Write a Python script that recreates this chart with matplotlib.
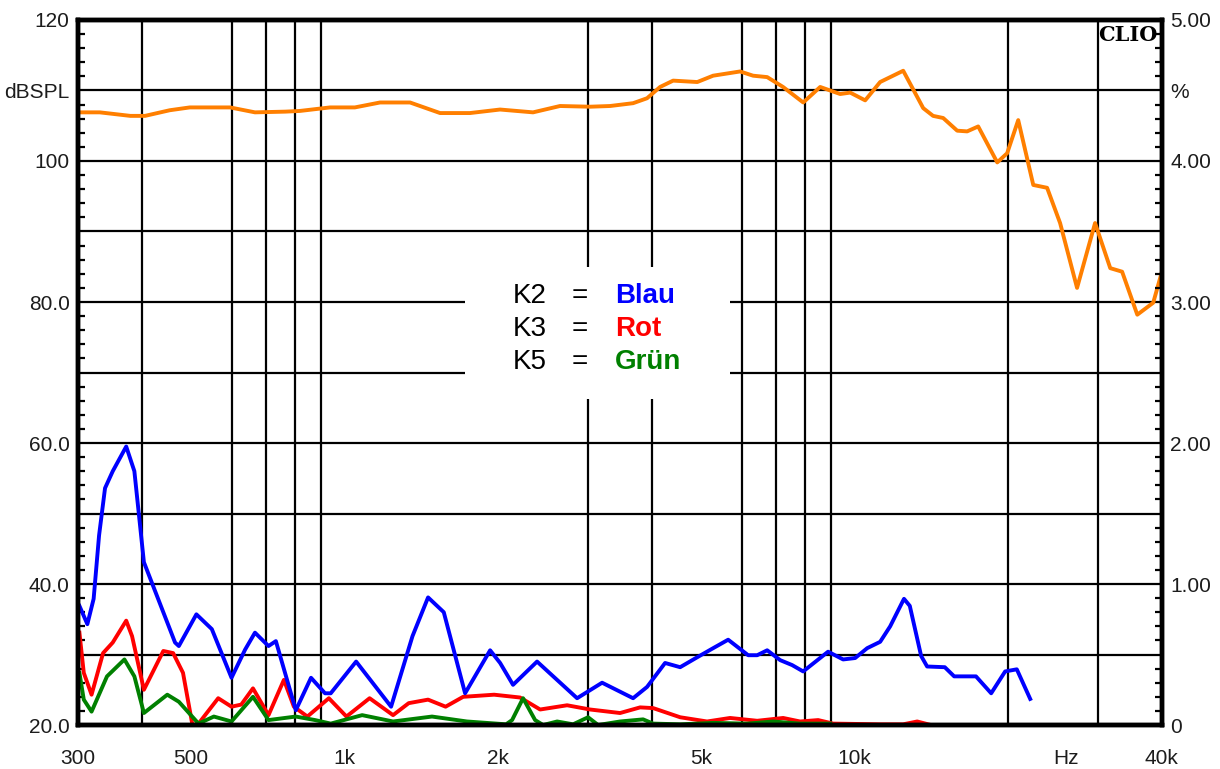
"""Distortion plot (CLIO style): frequency response plus K2/K3/K5 harmonics."""
import matplotlib
matplotlib.use("Agg")
import numpy as np
import matplotlib.pyplot as plt
from matplotlib.patches import Rectangle
from matplotlib.ticker import FixedLocator, MultipleLocator, NullFormatter

# frequency response (dB SPL, left axis)
SPL_F = [300, 331, 380, 406, 454, 497, 596, 667, 764, 817, 936, 1047, 1173, 1343, 1538,
         1760, 2016, 2340, 2643, 3027, 3313, 3676, 3915, 4152, 4404, 4911, 5275, 5958,
         6318, 6733, 7234, 7923, 8553, 9361, 9793, 10479, 11211, 12442, 13617, 14238,
         14901, 15876, 16605, 17454, 19020, 19890, 20910, 22380, 23820, 25260, 27270,
         29580, 31680, 33420, 35790, 38460, 40000]
SPL_DB = [106.9, 106.9, 106.4, 106.4, 107.2, 107.6, 107.6, 106.9, 107.0, 107.1, 107.6,
          107.6, 108.3, 108.3, 106.8, 106.8, 107.3, 106.9, 107.8, 107.7, 107.8, 108.2,
          108.9, 110.5, 111.4, 111.2, 112.1, 112.7, 112.1, 111.9, 110.5, 108.3, 110.5,
          109.5, 109.7, 108.6, 111.2, 112.8, 107.5, 106.4, 106.1, 104.3, 104.2, 104.9,
          99.8, 101.1, 105.8, 96.6, 96.2, 91.2, 82.0, 91.2, 84.8, 84.3, 78.2, 79.9, 84.3]

# K2 (blue)
K2_F = [302, 313, 322, 330, 339, 351, 373, 387, 404, 426, 465, 473, 512, 549, 600, 638,
        667, 709, 733, 802, 859, 915, 939, 1053, 1233, 1358, 1457, 1564, 1722, 1928,
        2017, 2138, 2383, 2855, 3196, 3676, 3915, 4247, 4546, 4907, 5276, 5646, 6179,
        6436, 6733, 7141, 7536, 7921, 8864, 9487, 10015, 10575, 11212, 11731, 12486,
        12817, 13490, 13860, 15010, 15660, 17279, 18507, 19713, 20776, 22071]
K2_DB = [36.9, 34.3, 37.9, 46.9, 53.6, 56.0, 59.5, 56.0, 43.1, 38.8, 31.7, 31.2, 35.7,
         33.6, 26.7, 30.7, 33.1, 31.2, 31.9, 22.1, 26.7, 24.5, 24.5, 29.0, 22.6, 32.6,
         38.1, 36.0, 24.5, 30.6, 28.8, 25.7, 29.0, 23.8, 26.0, 23.8, 25.4, 28.8, 28.2,
         29.6, 30.9, 32.1, 29.9, 29.9, 30.6, 29.2, 28.5, 27.6, 30.4, 29.3, 29.5, 30.9,
         31.8, 34.0, 37.9, 36.9, 29.8, 28.3, 28.2, 26.9, 26.9, 24.5, 27.6, 27.9, 23.7]

# K3 (red)
K3_F = [302, 308, 319, 336, 351, 373, 383, 404, 441, 461, 482, 503, 517, 565, 600, 627,
        661, 709, 760, 795, 845, 931, 1008, 1119, 1244, 1335, 1457, 1577, 1707, 1963,
        2207, 2416, 2729, 3027, 3466, 3794, 4024, 4546, 5134, 5694, 6436, 7236, 7812,
        8475, 9068, 11212, 12442, 13253, 13925]
K3_DB = [33.1, 27.4, 24.3, 30.2, 31.7, 34.8, 32.6, 25.0, 30.5, 30.2, 27.4, 20.0, 20.2,
         23.8, 22.6, 22.9, 25.2, 21.4, 26.4, 22.6, 21.2, 23.8, 21.2, 23.8, 21.4, 23.1,
         23.6, 22.6, 24.0, 24.3, 23.9, 22.2, 22.8, 22.2, 21.7, 22.5, 22.4, 21.1, 20.5,
         21.0, 20.6, 21.0, 20.5, 20.7, 20.2, 20.1, 20.1, 20.5, 20.1]

# K5 (green)
K5_F = [302, 308, 319, 342, 370, 387, 404, 449, 473, 517, 554, 600, 661, 709, 802, 875,
        939, 1082, 1244, 1483, 1737, 2072, 2129, 2237, 2362, 2449, 2609, 2804, 3000,
        3139, 3466, 3846, 4024, 4546, 5276, 6150, 6918, 7812, 8950]
K5_DB = [27.4, 23.6, 21.9, 26.9, 29.3, 26.9, 21.7, 24.3, 23.3, 20.2, 21.2, 20.5, 24.0,
         20.7, 21.2, 20.7, 20.2, 21.4, 20.5, 21.2, 20.5, 20.1, 20.7, 23.8, 20.7, 20.0,
         20.5, 20.1, 21.1, 20.0, 20.5, 20.8, 20.2, 20.1, 20.3, 20.2, 20.5, 20.2, 20.2]

X_TICKS = [300, 500, 1000, 2000, 5000, 10000, 26000, 40000]
X_LABELS = ["300", "500", "1k", "2k", "5k", "10k", "Hz", "40k"]
GRID_F = [400, 500, 600, 700, 800, 900, 1000, 2000, 3000, 4000, 5000, 6000, 7000,
          8000, 9000, 10000, 20000, 30000]
Y_LABELS = ["20.0", "", "40.0", "", "60.0", "", "80.0", "", "100", "dBSPL", "120"]
PCT_LABELS = ["0", "", "1.00", "", "2.00", "", "3.00", "", "4.00", "%", "5.00"]

LEGEND = [("K2", "Blau", "#0000ff"), ("K3", "Rot", "#ff0000"), ("K5", "Grün", "#008000")]

plt.rcParams["font.family"] = ["Liberation Sans", "DejaVu Sans"]
LABEL_COLOR = "#1c1c1c"
TICK_SIZE = 15

fig = plt.figure(figsize=(12.2, 7.69), dpi=100)
ax = fig.add_axes([0.0639, 0.0572, 0.8885, 0.9168])
ax.set_xscale("log")
ax.set_xlim(300, 40000)
ax.set_ylim(20, 120)
ax.set_axisbelow(True)

ax.xaxis.set_major_locator(FixedLocator(X_TICKS))
ax.set_xticklabels(X_LABELS)
ax.xaxis.set_minor_locator(FixedLocator(GRID_F))
ax.xaxis.set_minor_formatter(NullFormatter())
ax.tick_params(axis="x", which="both", length=0, pad=17, labelsize=TICK_SIZE,
               labelcolor=LABEL_COLOR)
ax.grid(True, axis="x", which="minor", color="black", lw=1.6)

ax.set_yticks(np.arange(20, 121, 10))
ax.set_yticklabels(Y_LABELS)
ax.yaxis.set_minor_locator(MultipleLocator(2))
ax.tick_params(axis="y", which="major", length=0, pad=6, labelsize=TICK_SIZE,
               labelcolor=LABEL_COLOR)
ax.tick_params(axis="y", which="minor", direction="in", length=5, width=1.6,
               color="black")
ax.grid(True, axis="y", which="major", color="black", lw=1.6)

ax.plot(SPL_F, SPL_DB, color="#ff7f00", lw=2.8, solid_joinstyle="round")
ax.plot(K3_F, K3_DB, color="#ff0000", lw=2.8, solid_joinstyle="round")
ax.plot(K5_F, K5_DB, color="#008000", lw=2.8, solid_joinstyle="round")
ax.plot(K2_F, K2_DB, color="#0000ff", lw=2.8, solid_joinstyle="round")

# legend box knocked out of the grid
ax.add_patch(Rectangle((0.357, 0.4624), 0.2445, 0.1872, transform=ax.transAxes,
                       facecolor="white", edgecolor="none", zorder=1.5))
rows_y = [0.6085, 0.5617, 0.5149]
for (k, name, col), y in zip(LEGEND, rows_y):
    ax.text(0.4165, y, k, transform=ax.transAxes, ha="center", va="center",
            fontsize=20, color="black", zorder=3)
    ax.text(0.463, y, "=", transform=ax.transAxes, ha="center", va="center",
            fontsize=20, color="black", zorder=3)
    ax.text(0.4954, y, name, transform=ax.transAxes, ha="left", va="center",
            fontsize=20, fontweight="bold", color=col, zorder=3)

ax.text(0.9955, 0.993, "CLIO", transform=ax.transAxes, ha="right", va="top",
        fontsize=15, fontweight="bold", family="DejaVu Serif", color="black")

# right axis in percent
pct = ax.twinx()
pct.set_ylim(0, 5)
pct.set_yticks(np.arange(0, 5.01, 0.5))
pct.set_yticklabels(PCT_LABELS)
pct.yaxis.set_minor_locator(MultipleLocator(0.1))
pct.tick_params(axis="y", which="major", length=0, pad=6, labelsize=TICK_SIZE,
                labelcolor=LABEL_COLOR)
pct.tick_params(axis="y", which="minor", direction="in", length=5, width=1.6,
                color="black")

for a in (ax, pct):
    for s in a.spines.values():
        s.set_linewidth(3.2)
        s.set_color("black")

fig.savefig("out.png", dpi=100)
